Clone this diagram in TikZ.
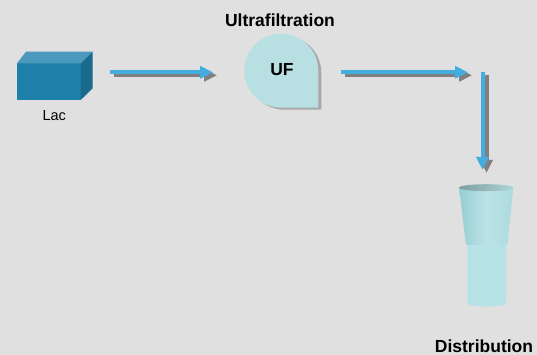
\documentclass[tikz,border=0pt]{standalone}
\usepackage{fontspec}
\setmainfont{Liberation Sans}
\usetikzlibrary{arrows.meta}
\definecolor{bg}{HTML}{E0E0E0}
\definecolor{flow}{HTML}{45ACDF}
\definecolor{shade}{HTML}{808080}
\definecolor{boxfront}{HTML}{1F80AA}
\definecolor{boxtop}{HTML}{4B9ABD}
\definecolor{boxside}{HTML}{1A6A8E}
\definecolor{ufcol}{HTML}{B8E0E3}
\definecolor{ufshadow}{HTML}{A8A8A8}
\definecolor{cupcol}{HTML}{B8E3E6}
\definecolor{cupdark}{HTML}{98CDD1}
\definecolor{cuplight}{HTML}{BBE3E6}
\definecolor{rimdark}{HTML}{7C9EA1}
\definecolor{rimlight}{HTML}{AFD5D8}
\tikzset{
  flowline/.style={line width=4pt, draw=flow, -{Triangle[length=13pt,width=12pt,fill=flow]}},
  flowshadow/.style={line width=4pt, draw=shade, -{Triangle[length=13pt,width=12pt,fill=shade]}},
  biglabel/.style={font=\fontsize{17.5}{20}\selectfont\bfseries, inner sep=0pt},
  smalllabel/.style={font=\fontsize{14.5}{17}\selectfont, inner sep=0pt}
}
\begin{document}
\begin{tikzpicture}[x=1pt,y=1pt]
\fill[bg] (0,0) rectangle (537,355);
\useasboundingbox (0,0) rectangle (537,355);
% Lac box
\fill[boxfront] (17,255) rectangle (80.7,291.7);
\fill[boxtop] (17,291.7) -- (26,303.3) -- (92.7,303.3) -- (80.7,291.7) -- cycle;
\fill[boxside] (80.7,291.7) -- (92.7,303.3) -- (92.7,266.7) -- (80.7,255) -- cycle;
\node[smalllabel] (lac) at (54.3,239.5) {Lac};
% UF
\fill[ufshadow] (284.3,245.3) -- (321.3,245.3) -- (321.3,282.3) arc[start angle=0,end angle=270,radius=37] -- cycle;
\fill[ufcol] (281.3,247.3) -- (318.3,247.3) -- (318.3,284.3) arc[start angle=0,end angle=270,radius=37] -- cycle;
\node[biglabel] (uf) at (282,285.3) {UF};
\node[biglabel] (ultra) at (280,334.5) {Ultrafiltration};
% arrow coordinates
\coordinate (a1s) at (110,282.7);
\coordinate (a1e) at (213,282.7);
\coordinate (a2s) at (341,282.7);
\coordinate (a2e) at (468,282.7);
\coordinate (a3s) at (482.5,283.3);
\coordinate (a3e) at (482.5,185);
\draw[flowshadow] ([shift={(4,-3)}]a1s) -- ([shift={(4,-3)}]a1e);
\draw[flowline] (a1s) -- (a1e);
\draw[flowshadow] ([shift={(4,-3)}]a2s) -- ([shift={(4,-3)}]a2e);
\draw[flowline] (a2s) -- (a2e);
\draw[flowshadow] ([shift={(4,-3)}]a3s) -- ([shift={(4,-3)}]a3e);
\draw[flowline] (a3s) -- (a3e);
% cup
\fill[cupcol] (467.3,110) -- (467.3,51.5) arc[start angle=180,end angle=360,x radius=19.35,y radius=3] -- (506,110) -- cycle;
\shade[left color=cupdark, right color=cupdark!40!cuplight, middle color=cuplight]
  (459,167.3) -- (466,110) -- (507.3,110) -- (513.3,167.3) -- cycle;
\shade[left color=rimdark, right color=rimlight]
  (486.15,167.3) ellipse[x radius=27.15, y radius=3.5];
\node[biglabel] (dist) at (484,9) {Distribution};
\end{tikzpicture}
\end{document}
